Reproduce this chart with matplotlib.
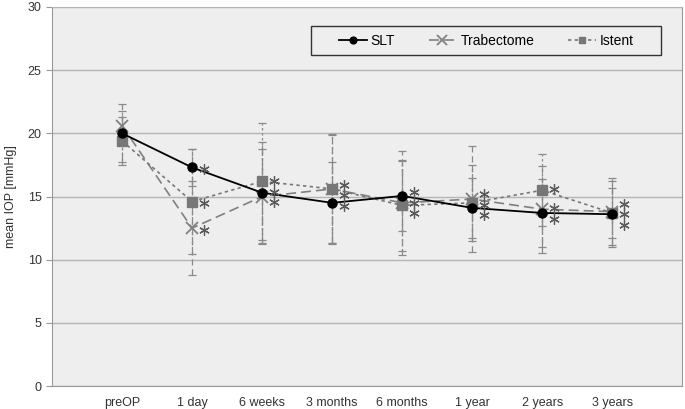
import numpy as np
import matplotlib.pyplot as plt
from matplotlib.patches import Rectangle

plt.rcParams['font.family'] = ['Liberation Sans', 'DejaVu Sans']
plt.rcParams['font.size'] = 9

# Data
timepoints = ['preOP', '1 day', '6 weeks', '3 months', '6 months', '1 year', '2 years', '3 years']
slt = [20.0, 17.3, 15.3, 14.5, 15.05, 14.1, 13.7, 13.6]
slt_sd = [2.3, 1.45, 4.0, 3.2, 2.75, 2.4, 2.7, 2.6]
trab = [20.6, 12.5, 15.0, 15.6, 14.5, 14.8, 14.0, 13.8]
trab_sd = [1.2, 3.7, 3.75, 4.3, 4.1, 4.2, 3.45, 2.65]
istent = [19.4, 14.6, 16.2, 15.6, 14.3, 14.5, 15.5, 13.7]
istent_sd = [1.9, 4.15, 4.65, 4.35, 3.6, 3.0, 2.85, 2.0]

x = np.arange(1, len(timepoints) + 1)

fig = plt.figure(figsize=(6.85, 4.09), dpi=100)
ax = fig.add_axes([0.076, 0.056, 0.92, 0.927])
ax.set_facecolor('#eeeeee')
ax.set_xlim(0, 9)
ax.set_ylim(0, 30)

# error bars first, so the lines sit on top
eb_style = dict(fmt='none', ecolor='#8a8a8a', elinewidth=0.9, capsize=3, capthick=0.9)
e1 = ax.errorbar(x, slt, yerr=slt_sd, **eb_style)
e2 = ax.errorbar(x, trab, yerr=trab_sd, **eb_style)
e3 = ax.errorbar(x, istent, yerr=istent_sd, **eb_style)
e2[2][0].set_linestyle((0, (5, 3)))
e3[2][0].set_linestyle((0, (2, 2)))
e1[2][0].set_linestyle((0, (8, 2, 2, 2)))

ax.plot(x, trab, color='#808080', linestyle=(0, (6, 3)), linewidth=1.2,
        marker='x', markersize=9, markeredgewidth=1.3, label='Trabectome', zorder=3)
ax.plot(x, istent, color='#777777', linestyle=(0, (2, 2)), linewidth=1.2,
        marker='s', markersize=6.5, label='Istent', zorder=3)
ax.plot(x, slt, color='black', linestyle='-', linewidth=1.3,
        marker='o', markersize=6.5, label='SLT', zorder=4)

# significance asterisks for the post-op values, spread vertically so they don't collide
px_per_unit = ax.transData.transform((0, 1))[1] - ax.transData.transform((0, 0))[1]
gap = 10.5 / px_per_unit
for i in range(1, len(x)):
    vals = sorted([slt[i], trab[i], istent[i]], reverse=True)
    pos = [vals[0]]
    for v in vals[1:]:
        pos.append(min(v, pos[-1] - gap))
    shift = np.mean(vals) - np.mean(pos)
    pos = [p + shift - 1.5 / px_per_unit for p in pos]
    xs = ax.transData.inverted().transform(
        ax.transData.transform((x[i], 0)) + (12, 0))[0]
    ax.plot([xs] * 3, pos, linestyle='none', marker=(6, 2, 0), markersize=7.5,
            markeredgewidth=0.9, color='#5a5a5a', zorder=5)

ax.set_yticks(range(0, 31, 5))
ax.set_xticks(x)
ax.set_xticklabels(timepoints)
ax.tick_params(axis='x', length=0, pad=8, colors='#333333')
ax.tick_params(axis='y', length=4, color='#999999', colors='#333333')
ax.set_ylabel('mean IOP [mmHg]', color='#333333', labelpad=8)

ax.yaxis.grid(True, color='#b5b5b5', linewidth=1)
ax.set_axisbelow(True)
for side in ['left', 'bottom', 'right']:
    ax.spines[side].set_color('#999999')
ax.spines['top'].set_color('#b5b5b5')

# legend: Excel-style box with the entries centred inside it
box = Rectangle((0.411, 0.873), 0.556, 0.077, transform=ax.transAxes,
                facecolor='#eeeeee', edgecolor='#333333', linewidth=1.0, zorder=6)
ax.add_patch(box)
handles, labels = ax.get_legend_handles_labels()
order = [2, 0, 1]
leg = ax.legend([handles[i] for i in order], [labels[i] for i in order],
                loc='center', bbox_to_anchor=(0.689, 0.9115), borderaxespad=0,
                ncol=3, fontsize=10, frameon=False, handlelength=2.0,
                markerscale=0.75, columnspacing=2.4, handletextpad=0.3)
leg.set_zorder(7)

fig.savefig('out.png', dpi=100)
